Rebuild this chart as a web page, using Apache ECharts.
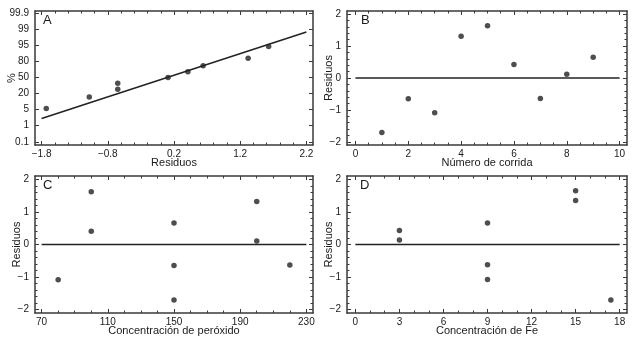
<!DOCTYPE html>
<html>
<head>
<meta charset="utf-8">
<script src="https://cdn.jsdelivr.net/npm/echarts@6/dist/echarts.min.js"></script>
<style>
  html, body { margin: 0; padding: 0; background: #fff; }
  #chart { width: 637px; height: 339px; }
</style>
</head>
<body>
<div id="chart"></div>
<script>
// panel A: normal probability plot (y is the label index on the probability scale)
var probLabels = ['0.1', '1', '5', '20', '50', '80', '95', '99', '99.9']
var residSorted = [-1.73, -1.08, -0.65, -0.65, 0.11, 0.41, 0.64, 1.32, 1.63]
var probIndex = [2.07, 2.79, 3.27, 3.64, 3.99, 4.36, 4.73, 5.19, 5.93]
var fitLine = [[-1.8, 1.45], [2.2, 6.82]]
var xTicksA = [-1.8, -0.8, 0.2, 1.2, 2.2]

// panel B: residuals vs run number
var runs = [1, 2, 3, 4, 5, 6, 7, 8, 9]
var residRun = [-1.71, -0.65, -1.09, 1.31, 1.64, 0.42, -0.64, 0.12, 0.65]
var xTicksB = [0, 2, 4, 6, 8, 10]

// panel C: residuals vs peroxide concentration
var peroxide = [80, 100, 100, 150, 150, 150, 200, 200, 220]
var residPer = [-1.08, 1.62, 0.41, 0.66, -0.64, -1.70, 1.32, 0.11, -0.63]
var xTicksC = [70, 110, 150, 190, 230]

// panel D: residuals vs Fe concentration
var fe = [3, 3, 9, 9, 9, 15, 15, 17.4]
var residFe = [0.43, 0.14, 0.66, -0.62, -1.07, 1.65, 1.35, -1.70]
var xTicksD = [0, 3, 6, 9, 12, 15, 18]

var yTicksRes = [-2, -1, 0, 1, 2]

var font = 'Liberation Sans, Arial, sans-serif'
var frameColor = '#3a3a3a'

function minorTicks(min, max, step, majors) {
  var out = []
  var n = Math.round((max - min) / step)
  for (var i = 0; i <= n; i++) {
    var v = +(min + i * step).toFixed(4)
    if (majors.indexOf(v) < 0) out.push(v)
  }
  return out
}

var grids = [
  { left: 35, top: 11, width: 278, height: 134 },
  { left: 347, top: 11, width: 280, height: 134 },
  { left: 35, top: 176, width: 278, height: 137 },
  { left: 347, top: 176, width: 280, height: 137 }
]
var letterOffset = [8, 14, 8, 13]

var xAxes = []
var yAxes = []

function addAxes(list, dim, g, pos, range, majors, minors, name, nameGap, formatter) {
  var base = list.length
  var main = pos === 'bottom' || pos === 'left'
  var ax = {
    type: 'value',
    gridIndex: g,
    position: pos,
    min: range[0],
    max: range[1],
    splitLine: { show: false },
    axisLine: { show: true, onZero: false, lineStyle: { color: frameColor, width: 1.5 } },
    axisTick: { show: true, inside: true, length: 4, customValues: majors, lineStyle: { color: frameColor, width: 1 } },
    axisLabel: {
      show: main,
      customValues: majors,
      margin: dim === 'x' ? 4 : 6,
      fontSize: 10,
      color: '#1a1a1a',
      fontFamily: font,
      formatter: formatter || function (v) { return String(v).replace('-', '\u2212') }
    }
  }
  if (main && name) {
    ax.name = name
    ax.nameLocation = 'middle'
    ax.nameGap = nameGap
    ax.nameMoveOverlap = false
    ax.nameTextStyle = { fontSize: 11, color: '#1a1a1a', fontFamily: font }
  }
  list.push(ax)
  if (minors && minors.length) {
    list.push({
      type: 'value',
      gridIndex: g,
      position: pos,
      min: range[0],
      max: range[1],
      splitLine: { show: false },
      axisLine: { show: false, onZero: false },
      axisTick: { show: true, inside: true, length: 2.5, customValues: minors, lineStyle: { color: frameColor, width: 1 } },
      axisLabel: { show: false }
    })
  }
  return base
}

function panel(g, xr, xMaj, xMinStep, xName, yr, yMaj, yMinStep, yName, yGap, yFmt) {
  var xMin = xMinStep ? minorTicks(xMaj[0], xMaj[xMaj.length - 1], xMinStep, xMaj) : null
  var yMin = yMinStep ? minorTicks(yMaj[0], yMaj[yMaj.length - 1], yMinStep, yMaj) : null
  var xi = addAxes(xAxes, 'x', g, 'bottom', xr, xMaj, xMin, xName, 12)
  addAxes(xAxes, 'x', g, 'top', xr, xMaj, xMin)
  var yi = addAxes(yAxes, 'y', g, 'left', yr, yMaj, yMin, yName, yGap, yFmt)
  addAxes(yAxes, 'y', g, 'right', yr, yMaj, yMin)
  return { x: xi, y: yi }
}

var pA = panel(0, [-1.9, 2.3], xTicksA, 0.2, 'Residuos',
  [-0.2, 8.13], [0, 1, 2, 3, 4, 5, 6, 7, 8], null, '%', 18,
  function (v) { return probLabels[Math.round(v)] })
var pB = panel(1, [-0.32, 10.28], xTicksB, 0.5, 'Número de corrida',
  [-2.1, 2.1], yTicksRes, 0.2, 'Residuos', 13)
var pC = panel(2, [66, 234], xTicksC, 10, 'Concentración de peróxido',
  [-2.1, 2.1], yTicksRes, 0.2, 'Residuos', 13)
var pD = panel(3, [-0.57, 18.5], xTicksD, 1, 'Concentración de Fe',
  [-2.1, 2.1], yTicksRes, 0.2, 'Residuos', 13)

function zip(a, b) { return a.map(function (v, i) { return [v, b[i]] }) }

function dots(p, data) {
  return {
    type: 'scatter', xAxisIndex: p.x, yAxisIndex: p.y, data: data,
    symbolSize: 5.5, itemStyle: { color: '#222' }, silent: true, z: 3
  }
}
function line(p, data) {
  return {
    type: 'line', xAxisIndex: p.x, yAxisIndex: p.y, data: data,
    symbol: 'none', lineStyle: { color: '#222', width: 1.5 }, silent: true, z: 2
  }
}

var zeroB = [[0, 0], [10, 0]]
var zeroC = [[70, 0], [230, 0]]
var zeroD = [[0, 0], [18, 0]]

var letters = ['A', 'B', 'C', 'D']
var chart = echarts.init(document.getElementById('chart'))
chart.setOption({
  animation: false,
  backgroundColor: '#fff',
  title: letters.map(function (t, i) {
    return {
      text: t, left: grids[i].left + letterOffset[i], top: grids[i].top + 3, padding: 0,
      textStyle: { fontSize: 13, fontWeight: 'normal', color: '#1a1a1a', fontFamily: font }
    }
  }),
  grid: grids,
  xAxis: xAxes,
  yAxis: yAxes,
  series: [
    line(pA, fitLine),
    dots(pA, zip(residSorted, probIndex)),
    line(pB, zeroB),
    dots(pB, zip(runs, residRun)),
    line(pC, zeroC),
    dots(pC, zip(peroxide, residPer)),
    line(pD, zeroD),
    dots(pD, zip(fe, residFe))
  ]
})
</script>
</body>
</html>
